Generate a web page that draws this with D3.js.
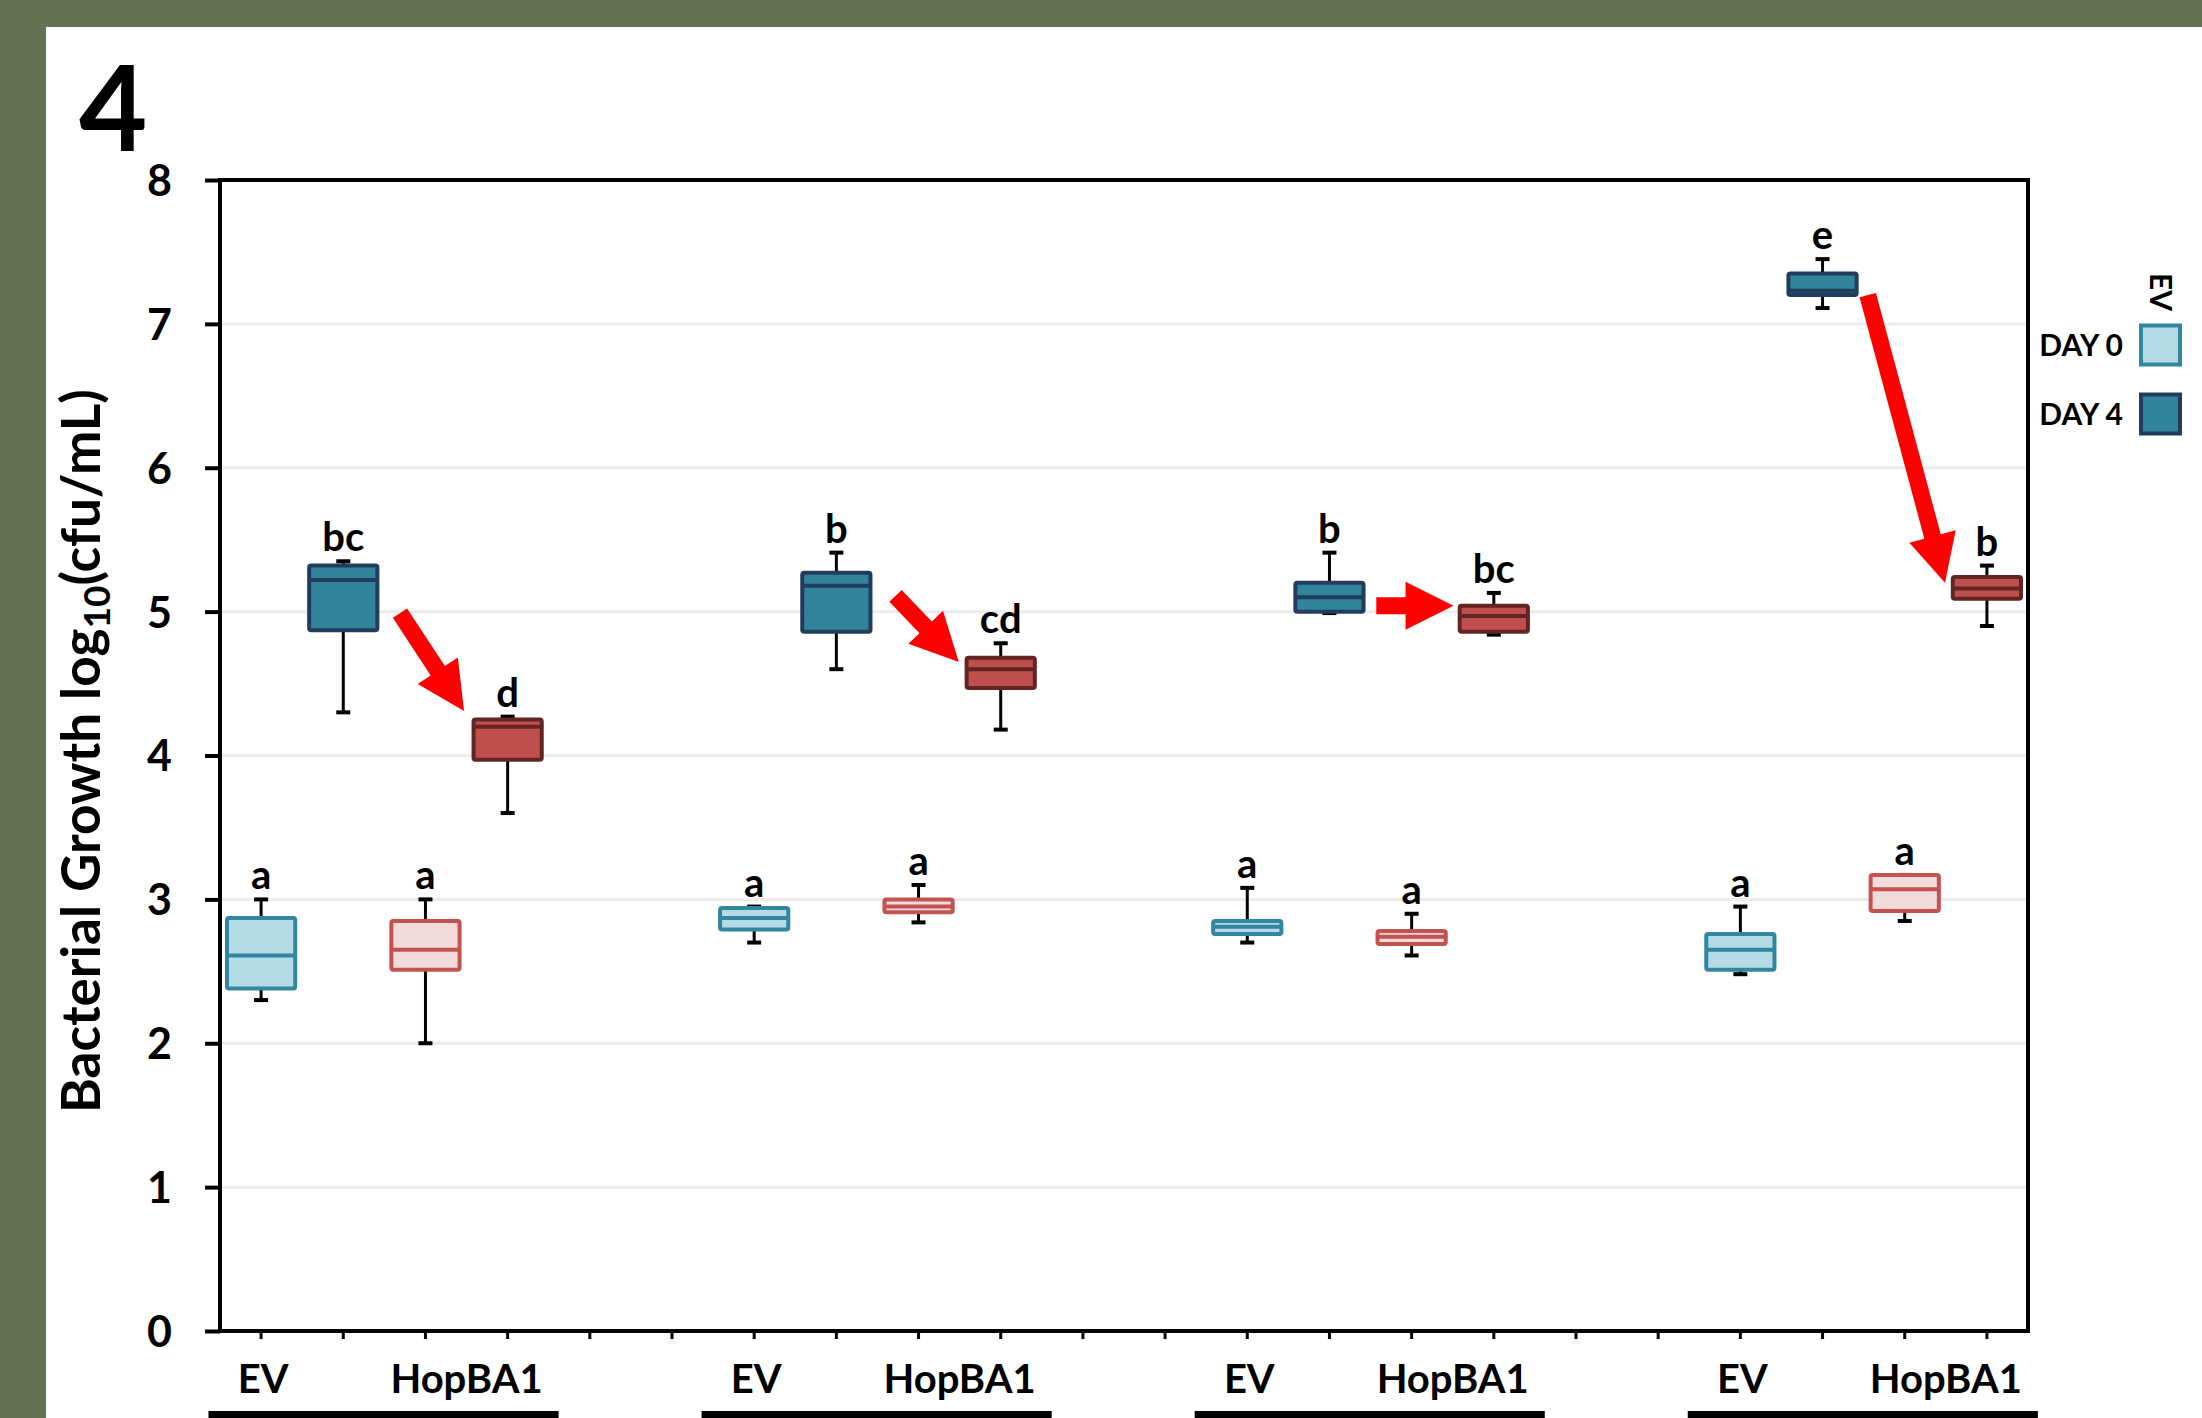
<!DOCTYPE html>
<html><head><meta charset="utf-8">
<script src="https://cdn.jsdelivr.net/npm/d3@7"></script>
<style>
body{margin:0;background:#fff}
svg{display:block}
text{font-family:Lato,"Open Sans",sans-serif;font-weight:700;fill:#000}
</style>
</head><body>
<svg id="chart" width="2202" height="1418"></svg>
<script>
// ---------------- data ----------------
const categories = [
  "G1|EV|DAY 0","G1|EV|DAY 4","G1|HopBA1|DAY 0","G1|HopBA1|DAY 4","gap1","gap2",
  "G2|EV|DAY 0","G2|EV|DAY 4","G2|HopBA1|DAY 0","G2|HopBA1|DAY 4","gap3","gap4",
  "G3|EV|DAY 0","G3|EV|DAY 4","G3|HopBA1|DAY 0","G3|HopBA1|DAY 4","gap5","gap6",
  "G4|EV|DAY 0","G4|EV|DAY 4","G4|HopBA1|DAY 0","G4|HopBA1|DAY 4"
];
const groups = ["G1","G2","G3","G4"];
const genotypes = ["EV","HopBA1"];
const days = ["DAY 0","DAY 4"];
const boxKeys = categories.filter(c => !c.startsWith("gap"));

const whiskerLow  = [2.30,4.30,2.00,3.60, 2.70,4.60,2.84,4.18, 2.70,4.99,2.61,4.84, 2.48,7.11,2.85,4.90];
const q1          = [2.38,4.87,2.51,3.97, 2.79,4.86,2.91,4.47, 2.76,5.00,2.69,4.86, 2.51,7.20,2.92,5.09];
const median      = [2.61,5.22,2.65,4.20, 2.87,5.18,2.95,4.60, 2.81,5.10,2.74,4.97, 2.65,7.23,3.07,5.16];
const q3          = [2.87,5.32,2.85,4.25, 2.94,5.27,3.00,4.68, 2.85,5.20,2.78,5.04, 2.76,7.35,3.17,5.24];
const whiskerHigh = [3.00,5.35,3.00,4.27, 2.95,5.41,3.10,4.78, 3.08,5.41,2.90,5.13, 2.95,7.45,3.17,5.32];
const letters     = ["a","bc","a","d", "a","b","a","cd", "a","b","a","bc", "a","e","a","b"];

const yTicks = [0,1,2,3,4,5,6,7,8];
const yTitle = "Bacterial Growth log";
const yTitleSub = "10";
const yTitleEnd = "(cfu/mL)";
const panelLabel = "4";
const legendTitle = "EV";

// arrows (annotation): from/to anchored on a category, offset in band units, and a value
const arrowFromKey = ["G1|EV|DAY 4","G2|EV|DAY 4","G3|EV|DAY 4","G4|EV|DAY 4"];
const arrowFromOff = [0.69,0.72,0.57,0.55];
const arrowFromVal = [4.99,5.11,5.04,7.20];
const arrowToKey   = ["G1|HopBA1|DAY 4","G2|HopBA1|DAY 4","G3|HopBA1|DAY 4","G4|HopBA1|DAY 4"];
const arrowToOff   = [-0.53,-0.51,-0.49,-0.51];
const arrowToVal   = [4.31,4.65,5.04,5.20];

// ---------------- styles ----------------
const palette = {
  "EV|DAY 0":     {fill:"#b5dce6", stroke:"#3187a0"},
  "EV|DAY 4":     {fill:"#31849b", stroke:"#223c5c"},
  "HopBA1|DAY 0": {fill:"#f2dcdb", stroke:"#c4524f"},
  "HopBA1|DAY 4": {fill:"#c0504d", stroke:"#632523"}
};

const W = 2202, H = 1418;
const plot = {left:220, right:2028, top:180, bottom:1331};

const svg = d3.select("#chart");
svg.append("rect").attr("width",W).attr("height",H).attr("fill","#647252");
svg.append("rect").attr("x",46).attr("y",27).attr("width",W-46).attr("height",H-27).attr("fill","#ffffff");

const x = d3.scaleBand().domain(categories).range([plot.left, plot.right]).padding(0);
const y = d3.scaleLinear().domain([0,8]).range([plot.bottom, plot.top]);
const bw = x.bandwidth();
const cx = k => x(k) + bw/2;

// gridlines
svg.append("g").selectAll("line").data(yTicks.filter(t => t>0 && t<8)).join("line")
  .attr("x1",plot.left).attr("x2",plot.right)
  .attr("y1",d=>y(d)).attr("y2",d=>y(d))
  .attr("stroke","#ececec").attr("stroke-width",3);

// y axis
const yAxis = svg.append("g").attr("transform",`translate(${plot.left},0)`)
  .call(d3.axisLeft(y).tickValues(yTicks).tickSize(15).tickPadding(33).tickFormat(d3.format("d")));
yAxis.select(".domain").remove();
yAxis.selectAll(".tick line").attr("stroke","#000").attr("stroke-width",4);
yAxis.selectAll(".tick text").attr("font-size",43).attr("font-family","Lato").attr("font-weight",700).attr("fill","#000").attr("dy","0.36em");

// x axis (ticks only)
const xAxis = svg.append("g").attr("transform",`translate(0,${plot.bottom})`)
  .call(d3.axisBottom(x).tickSize(8).tickFormat(""));
xAxis.select(".domain").remove();
xAxis.selectAll(".tick line").attr("stroke","#000").attr("stroke-width",3);

// boxes
const boxW = bw*0.83;
const data = boxKeys.map((k,i) => {
  const parts = k.split("|");
  return {key:k, group:parts[0], geno:parts[1], day:parts[2],
    lo:whiskerLow[i], q1:q1[i], med:median[i], q3:q3[i], hi:whiskerHigh[i], letter:letters[i]};
});
const gBox = svg.append("g");
const b = gBox.selectAll("g").data(data).join("g");
b.append("line").attr("x1",d=>cx(d.key)).attr("x2",d=>cx(d.key))
  .attr("y1",d=>y(d.lo)).attr("y2",d=>y(d.hi)).attr("stroke","#000").attr("stroke-width",3);
b.append("line").attr("x1",d=>cx(d.key)-7).attr("x2",d=>cx(d.key)+7)
  .attr("y1",d=>y(d.lo)).attr("y2",d=>y(d.lo)).attr("stroke","#000").attr("stroke-width",4);
b.append("line").attr("x1",d=>cx(d.key)-7).attr("x2",d=>cx(d.key)+7)
  .attr("y1",d=>y(d.hi)).attr("y2",d=>y(d.hi)).attr("stroke","#000").attr("stroke-width",4);
b.append("rect").attr("x",d=>cx(d.key)-boxW/2).attr("width",boxW)
  .attr("y",d=>y(d.q3)).attr("height",d=>y(d.q1)-y(d.q3))
  .attr("fill",d=>palette[d.geno+"|"+d.day].fill)
  .attr("stroke",d=>palette[d.geno+"|"+d.day].stroke).attr("stroke-width",4).attr("rx",2);
b.append("line").attr("x1",d=>cx(d.key)-boxW/2).attr("x2",d=>cx(d.key)+boxW/2)
  .attr("y1",d=>y(d.med)).attr("y2",d=>y(d.med))
  .attr("stroke",d=>palette[d.geno+"|"+d.day].stroke).attr("stroke-width",4);
b.append("text").attr("x",d=>cx(d.key)).attr("y",d=>y(d.hi)-10)
  .attr("text-anchor","middle").attr("font-size",40).text(d=>d.letter);

// frame
svg.append("rect").attr("x",plot.left).attr("y",plot.top)
  .attr("width",plot.right-plot.left).attr("height",plot.bottom-plot.top)
  .attr("fill","none").attr("stroke","#000").attr("stroke-width",4);

// x labels and group underline bars
groups.forEach(g => {
  const ev0 = `${g}|EV|DAY 0`, hop4 = `${g}|HopBA1|DAY 4`;
  svg.append("text").attr("x",cx(ev0)+2).attr("y",1393).attr("text-anchor","middle")
    .attr("font-size",40).text(genotypes[0]);
  svg.append("text").attr("x",x(hop4)).attr("y",1393).attr("text-anchor","middle")
    .attr("font-size",40).text(genotypes[1]);
  svg.append("rect").attr("x",x(ev0)-0.14*bw).attr("y",1411)
    .attr("width",(x(hop4)+1.12*bw)-(x(ev0)-0.14*bw)).attr("height",12).attr("fill","#000");
});

// arrows
const arrowG = svg.append("g");
arrowFromKey.forEach((k,i) => {
  const sx = cx(k) + arrowFromOff[i]*bw, sy = y(arrowFromVal[i]);
  const tx = cx(arrowToKey[i]) + arrowToOff[i]*bw, ty = y(arrowToVal[i]);
  const dx = tx-sx, dy = ty-sy, L = Math.hypot(dx,dy);
  const ux = dx/L, uy = dy/L, nx = -uy, ny = ux;
  const headL = 48, headW = 24, shaftW = 8.5;
  const bx = tx-ux*headL, by = ty-uy*headL;
  const pts = [
    [sx+nx*shaftW, sy+ny*shaftW],[bx+nx*shaftW, by+ny*shaftW],[bx+nx*headW, by+ny*headW],
    [tx,ty],[bx-nx*headW, by-ny*headW],[bx-nx*shaftW, by-ny*shaftW],[sx-nx*shaftW, sy-ny*shaftW]
  ];
  arrowG.append("polygon").attr("points",pts.map(p=>p.join(",")).join(" ")).attr("fill","#ff0000");
});

// y title
const yt = svg.append("text").attr("transform","translate(100,751) rotate(-90)")
  .attr("text-anchor","middle").attr("font-size",53);
yt.append("tspan").text(yTitle);
yt.append("tspan").attr("font-size",37).attr("dy",10).text(yTitleSub);
yt.append("tspan").attr("dy",-10).text(yTitleEnd);

// panel label
svg.append("text").attr("x",79).attr("y",151).attr("font-size",118).text(panelLabel);

// legend
svg.append("text").attr("transform","translate(2150,292) rotate(90)")
  .attr("text-anchor","middle").attr("font-size",30).text(legendTitle);
days.forEach((d,i) => {
  const yy = 345 + i*69;
  const p = palette["EV|"+d];
  svg.append("rect").attr("x",2141).attr("y",yy-19.5).attr("width",39).attr("height",39)
    .attr("fill",p.fill).attr("stroke",p.stroke).attr("stroke-width",4);
  svg.append("text").attr("x",2123).attr("y",yy).attr("dy","0.36em")
    .attr("text-anchor","end").attr("font-size",30).text(d);
});
</script>
</body></html>
